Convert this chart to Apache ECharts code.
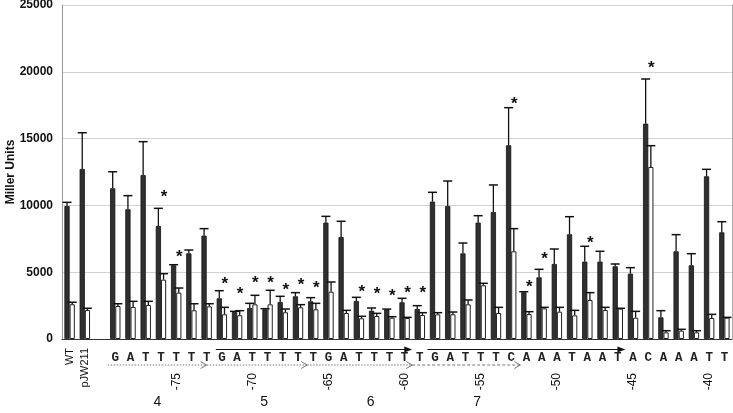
<!DOCTYPE html>
<html>
<head>
<meta charset="utf-8">
<script src="https://cdn.jsdelivr.net/npm/echarts@6/dist/echarts.min.js"></script>
<style>
html,body{margin:0;padding:0;background:#fff;}
#chart{width:733px;height:413px;}
</style>
</head>
<body>
<div id="chart"></div>
<script>
// ---- data ----
const categories = ['WT','pJW211',' ','-79','-78','-77','-76','-75','-74','-73','-72','-71','-70','-69','-68','-67','-66','-65','-64','-63','-62','-61','-60','-59','-58','-57','-56','-55','-54','-53','-52','-51','-50','-49','-48','-47','-46','-45','-44','-43','-42','-41','-40','-39'];
const bases = ['','','','G','A','T','T','T','T','T','G','A','T','T','T','T','T','G','A','T','T','T','T','T','G','A','T','T','T','C','A','A','A','T','A','A','T','A','C','A','A','A','T','T'];
const darkValues = [9950,12725,null,11280,9710,12275,8460,5515,6410,7735,3045,2020,2320,2220,2770,3195,2820,8710,7635,2845,2120,2220,2745,2245,10280,9955,6410,8710,9505,14500,3495,4615,5615,7835,5790,5790,5440,4890,16115,1620,6565,5515,12180,7985];
const darkErrTop = [10230,15440,null,12520,10730,14770,9780,5560,6660,8260,3615,2070,2670,2270,3195,3470,3095,9180,8810,3120,2320,2240,3045,2495,10980,11825,7185,9230,11530,17315,3540,5215,6735,9155,6940,6565,5615,5340,19460,2120,7810,6385,12700,8780];
const whiteValues = [2600,2170,null,2470,2400,2545,4440,3470,2150,2445,1850,1775,2595,2595,2000,2370,2220,3540,1945,1550,1720,1595,1570,1795,1845,1850,2595,4020,1945,6565,1870,2295,2045,1770,2920,2170,2270,1595,12875,500,620,500,1570,1595];
const whiteErrTop = [2750,2300,null,2640,2820,2820,4890,3815,2640,2640,2370,2120,3270,3645,2245,2570,2670,4265,2145,1700,1920,1670,1620,1970,1970,2020,2920,4170,2370,8260,2045,2370,2370,2145,3470,2370,2300,2070,14470,620,725,620,1845,1620];
const positionTicks = ['-75','-70','-65','-60','-55','-50','-45','-40'];
const groupLabels = {'-76':'4','-69':'5','-62':'6','-55':'7'};
const stars = [['-76',10930],['-75',6440],['-72',4415],['-71',3670],['-70',4470],['-69',4490],['-68',3915],['-67',4290],['-66',4115],['-63',3795],['-62',3615],['-61',3520],['-60',3720],['-59',3720],['-53',17890],['-52',4170],['-51',6235],['-48',7485],['-44',20580]];
// arrows over the sequence, in category-index units: [start, end]
const solidArrows = [[9.6,22.5],[23.5,36.5]];
const dottedArrows = [[2.5,9.0],[9.0,15.6],[15.6,22.5]];
const dashedArrows = [[22.5,29.6]];

// ---- chart ----
const BW = 5.2;
const chart = echarts.init(document.getElementById('chart'), null, {renderer:'canvas'});

function errData(vals, tops){
  const out = [];
  vals.forEach((v,i)=>{ if(v!=null) out.push([i, v, tops[i]]); });
  return out;
}
function errRender(offset){
  return function(params, api){
    const i = api.value(0);
    const lo = api.coord([i, api.value(1)]);
    const hi = api.coord([i, api.value(2)]);
    const x = lo[0] + offset;
    return {
      type:'group',
      children:[
        {type:'line', shape:{x1:x,y1:lo[1],x2:x,y2:hi[1]}, style:{stroke:'#111',lineWidth:1.3}},
        {type:'line', shape:{x1:x-4.5,y1:hi[1],x2:x+4.5,y2:hi[1]}, style:{stroke:'#111',lineWidth:1.5}}
      ]
    };
  };
}
const arrowItems = [];
solidArrows.forEach(a=>arrowItems.push([0,0,a[0],a[1],0]));
dottedArrows.forEach(a=>arrowItems.push([0,0,a[0],a[1],1]));
dashedArrows.forEach(a=>arrowItems.push([0,0,a[0],a[1],2]));

function arrowRender(params, api){
  const base = api.coord([0,0]);
  const step = api.size([1,0])[0];
  const x1 = base[0] + api.value(2)*step;
  const x2 = base[0] + api.value(3)*step;
  const kind = api.value(4);
  if(kind === 0){
    const y = base[1] + 10.5;
    return {type:'group', children:[
      {type:'line', shape:{x1:x1,y1:y,x2:x2-5,y2:y}, style:{stroke:'#111',lineWidth:1}},
      {type:'polygon', shape:{points:[[x2,y],[x2-8,y-3],[x2-8,y+3]]}, style:{fill:'#111'}}
    ]};
  } else {
    const y = base[1] + 26;
    return {type:'group', children:[
      {type:'line', shape:{x1:x1,y1:y,x2:x2,y2:y}, style:{stroke:'#777',lineWidth:1,lineDash: kind===1?[1.5,1.5]:[3,2]}},
      {type:'polyline', shape:{points:[[x2-6,y-3.5],[x2,y],[x2-6,y+3.5]]}, style:{stroke:'#777',lineWidth:1,fill:null}}
    ]};
  }
}
function starRender(params, api){
  const p = api.coord([api.value(0), api.value(1)]);
  return {type:'text', x:p[0]+3, y:p[1]+4,
    style:{text:'*', fill:'#111', font:'bold 17px "Liberation Sans", Arial', align:'center', textAlign:'center', verticalAlign:'middle', textVerticalAlign:'middle'}};
}

const hiddenAxis = {axisLine:{show:false}, axisTick:{show:false}, splitLine:{show:false}};

chart.setOption({
  animation:false,
  backgroundColor:'#fff',
  grid:{left:62, right:1, top:5, bottom:74, containLabel:false, outerBoundsMode:'none'},
  xAxis:[
    {type:'category', data:categories,
      axisLine:{show:true, lineStyle:{color:'#333', width:1}}, axisTick:{show:false},
      axisLabel:{interval:0, margin:12, formatter:(v,i)=>bases[i], fontFamily:'"Liberation Mono", "Courier New", monospace', fontWeight:'bold', fontSize:12.5, color:'#222'}},
    Object.assign({type:'category', data:categories, position:'bottom',
      axisLabel:{interval:0, rotate:90, margin:9, formatter:(v,i)=> i<2 ? v : '', fontFamily:'"Liberation Sans", Arial', fontSize:11, color:'#111'}}, hiddenAxis),
    Object.assign({type:'category', data:categories, position:'bottom',
      axisLabel:{interval:0, rotate:90, margin:34, formatter:(v)=> positionTicks.indexOf(v)>=0 ? v : '', fontFamily:'"Liberation Sans", Arial', fontSize:12, color:'#111'}}, hiddenAxis),
    Object.assign({type:'category', data:categories, position:'bottom',
      axisLabel:{interval:0, margin:56, formatter:(v)=> groupLabels[v] || '', padding:[0,7,0,0], fontFamily:'"Liberation Sans", Arial', fontSize:14, color:'#111'}}, hiddenAxis)
  ],
  yAxis:[
    {type:'value', min:0, max:25000, interval:5000,
      name:'Miller Units', nameLocation:'middle', nameGap:45, nameMoveOverlap:false,
      nameTextStyle:{fontFamily:'"Liberation Sans", Arial', fontWeight:'bold', fontSize:12, color:'#111'},
      axisLine:{show:true, lineStyle:{color:'#999'}}, axisTick:{show:false},
      axisLabel:{margin:9, formatter:(v)=>String(v), fontFamily:'"Liberation Sans", Arial', fontWeight:'bold', fontSize:12, color:'#111'},
      splitLine:{show:true, lineStyle:{color:'#d2d2d2', width:1}}},
    {type:'value', min:0, max:25000, interval:5000, position:'right',
      axisLine:{show:true, lineStyle:{color:'#aaa'}}, axisTick:{show:false}, axisLabel:{show:false}, splitLine:{show:false}}
  ],
  series:[
    {type:'bar', data:darkValues, barWidth:BW, barGap:'0%',
      itemStyle:{color:'#303030', borderColor:'#111', borderWidth:0.8}},
    {type:'bar', data:whiteValues, barWidth:BW, barGap:'0%',
      itemStyle:{color:'#fff', borderColor:'#222', borderWidth:1}},
    {type:'custom', data:errData(darkValues, darkErrTop), renderItem:errRender(-BW/2), encode:{x:0, y:[1,2]}, z:5},
    {type:'custom', data:errData(whiteValues, whiteErrTop), renderItem:errRender(BW/2), encode:{x:0, y:[1,2]}, z:5},
    {type:'custom', data:stars, renderItem:starRender, encode:{x:0, y:1}, z:6},
    {type:'custom', data:arrowItems, renderItem:arrowRender, encode:{x:0, y:1}, clip:false, z:6}
  ]
});
</script>
</body>
</html>
